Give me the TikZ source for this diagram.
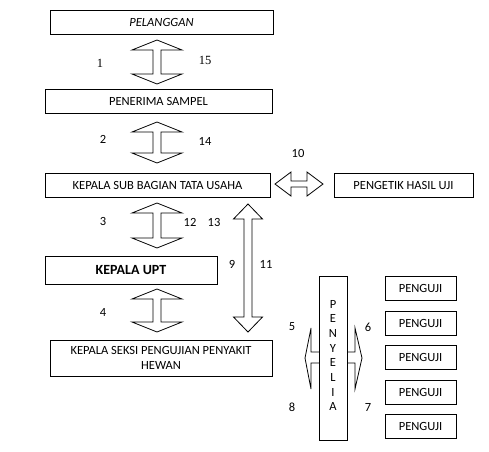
\documentclass[tikz,border=0pt]{standalone}
\usepackage{fontspec}
\setmainfont{Carlito}
\newfontfamily\serifnum{Liberation Serif}
\tikzset{
  boxnode/.style={draw, line width=0.8pt, inner sep=0pt, align=center, font=\fontsize{12.5}{14}\selectfont},
  blk/.style={draw, line width=0.8pt, fill=white, line join=miter},
  numlbl/.style={inner sep=0pt, font=\fontsize{12.5}{14}\selectfont},
  serlbl/.style={inner sep=0pt, font=\serifnum\fontsize{12.5}{14}\selectfont}
}
\newcommand\vdbl[6]{%
 \draw[blk] (#1,#2) -- ({#1+#4},{#2+#6}) -- ({#1+#5},{#2+#6}) -- ({#1+#5},{#3-#6}) -- ({#1+#4},{#3-#6}) -- (#1,#3) -- ({#1-#4},{#3-#6}) -- ({#1-#5},{#3-#6}) -- ({#1-#5},{#2+#6}) -- ({#1-#4},{#2+#6}) -- cycle;}
\newcommand\hdbl[6]{%
 \draw[blk] (#2,#1) -- ({#2+#6},{#1-#4}) -- ({#2+#6},{#1-#5}) -- ({#3-#6},{#1-#5}) -- ({#3-#6},{#1-#4}) -- (#3,#1) -- ({#3-#6},{#1+#4}) -- ({#3-#6},{#1+#5}) -- ({#2+#6},{#1+#5}) -- ({#2+#6},{#1+#4}) -- cycle;}
\begin{document}
\begin{tikzpicture}[x=1pt,y=-1pt]
\useasboundingbox (0,0) rectangle (489,451);
% boxes
\node[boxnode, minimum width=223pt, minimum height=24pt] (pel) at (161.5,22) {\itshape PELANGGAN};
\node[boxnode, minimum width=227pt, minimum height=24pt] (pen) at (158.5,101) {PENERIMA SAMPEL};
\node[boxnode, minimum width=225pt, minimum height=24pt] (ksub) at (157.5,185) {KEPALA SUB BAGIAN TATA USAHA};
\node[boxnode, minimum width=139pt, minimum height=24pt] (ketik) at (403.5,185) {PENGETIK HASIL UJI};
\node[boxnode, minimum width=172pt, minimum height=28pt, font=\fontsize{14}{16}\selectfont\bfseries] (kupt) at (131,270) {KEPALA UPT};
\node[boxnode, minimum width=222pt, minimum height=36pt, font=\fontsize{12.5}{15}\selectfont] (kseksi) at (161,358) {KEPALA SEKSI PENGUJIAN PENYAKIT\\HEWAN};
\node[boxnode, minimum width=71pt, minimum height=24pt] (u1) at (420.5,288) {PENGUJI};
\node[boxnode, minimum width=71pt, minimum height=24pt] (u2) at (420.5,323) {PENGUJI};
\node[boxnode, minimum width=71pt, minimum height=24pt] (u3) at (420.5,357) {PENGUJI};
\node[boxnode, minimum width=71pt, minimum height=24pt] (u4) at (420.5,392) {PENGUJI};
\node[boxnode, minimum width=71pt, minimum height=24pt] (u5) at (420.5,426) {PENGUJI};
\node[boxnode, minimum width=28pt, minimum height=164pt] (pny) at (333,358) {};
\node[inner sep=0pt, align=center, font=\fontsize{12.5}{14.7}\selectfont] (pnytxt) at (333,355.5) {P\\E\\N\\Y\\E\\L\\I\\A};
% block arrows
\vdbl{157}{40}{84}{25}{4}{10}
\vdbl{157}{122}{163}{25}{4}{10}
\vdbl{157}{203}{248}{25}{4}{10}
\vdbl{157}{289}{332}{25}{4}{10}
\vdbl{248}{204}{332}{14.5}{4}{15}
\hdbl{184}{275}{323}{12}{3}{16}
\draw[blk, fill=none] (319,352) -- (311,352) -- (311,328) -- (305,358) -- (311,389) -- (311,363) -- (319,363);
\draw[blk, fill=none] (347,352) -- (355,352) -- (355,328) -- (362,358) -- (355,389) -- (355,363) -- (347,363);
% labels
\node[serlbl] (l1) at (100,63) {1};
\node[serlbl] (l15) at (205,60) {15};
\node[numlbl] (l2) at (103,139) {2};
\node[numlbl] (l14) at (205,141) {14};
\node[numlbl] (l10) at (298,153) {10};
\node[numlbl] (l3) at (103,221) {3};
\node[numlbl] (l12) at (190,222) {12};
\node[numlbl] (l13) at (214,222) {13};
\node[numlbl] (l9) at (232,264) {9};
\node[numlbl] (l11) at (266,264) {11};
\node[numlbl] (l4) at (103,312) {4};
\node[numlbl] (l5) at (292,327) {5};
\node[numlbl] (l6) at (368,327) {6};
\node[numlbl] (l8) at (292,407) {8};
\node[numlbl] (l7) at (368,407) {7};
\end{tikzpicture}
\end{document}
